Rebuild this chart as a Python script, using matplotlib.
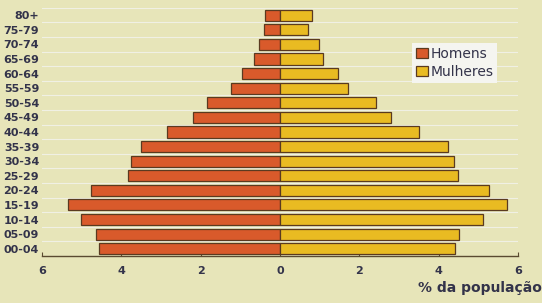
import matplotlib
matplotlib.use("Agg")
import matplotlib.pyplot as plt
import numpy as np

ages = ["00-04", "05-09", "10-14", "15-19", "20-24", "25-29", "30-34", "35-39",
        "40-44", "45-49", "50-54", "55-59", "60-64", "65-69", "70-74", "75-79", "80+"]
homens = [4.57, 4.63, 5.01, 5.34, 4.77, 3.82, 3.76, 3.51,
          2.84, 2.20, 1.83, 1.24, 0.95, 0.66, 0.53, 0.40, 0.38]
mulheres = [4.41, 4.52, 5.13, 5.72, 5.26, 4.50, 4.40, 4.25,
            3.50, 2.79, 2.41, 1.71, 1.46, 1.08, 0.98, 0.71, 0.80]
xticks = [-6, -4, -2, 0, 2, 4, 6]

BG = "#e7e5b9"
fig = plt.figure(figsize=(5.42, 3.03), dpi=100, facecolor=BG)
ax = fig.add_axes([0.0775, 0.155, 0.878, 0.819], facecolor=BG)

y = np.arange(len(ages))
ax.barh(y, -np.array(homens), height=0.76, color="#d95a2b", edgecolor="#5a3a20",
        linewidth=0.9, label="Homens", zorder=3)
ax.barh(y, mulheres, height=0.76, color="#e9bb22", edgecolor="#5a3a20",
        linewidth=0.9, label="Mulheres", zorder=3)

for g in np.arange(-0.5, len(ages), 1.0):
    ax.axhline(g, color="#f0f0e4", linewidth=0.8, zorder=1)

ax.set_xlim(-6, 6)
ax.set_ylim(-0.5, len(ages) - 0.5)
ax.set_yticks(y)
ax.set_yticklabels(ages, fontsize=8, fontweight="bold", color="#33334a")
ax.tick_params(axis="y", length=0, pad=2)
ax.set_xticks(xticks)
ax.set_xticklabels([str(abs(v)) for v in xticks], fontsize=8, fontweight="bold",
                   color="#33334a")
ax.tick_params(axis="x", direction="in", length=3, color="#5a4a30", pad=7)

for s in ["top", "right", "left"]:
    ax.spines[s].set_visible(False)
ax.spines["bottom"].set_color("#5a4a30")
ax.spines["bottom"].set_linewidth(1.0)

fig.text(1.0, 0.035, "% da população", ha="right", va="baseline", fontsize=10,
         fontweight="bold", color="#33334a")

leg = ax.legend(loc="upper left", bbox_to_anchor=(0.778, 0.86), fontsize=10,
                frameon=True, handlelength=0.8, handleheight=0.8, handletextpad=0.2,
                borderpad=0.3, labelspacing=0.3, fancybox=False, borderaxespad=0)
leg.get_frame().set_facecolor("#f5f5f0")
leg.get_frame().set_edgecolor("none")
leg.get_frame().set_alpha(1)
for t in leg.get_texts():
    t.set_color("#33334a")

fig.savefig("out.png", dpi=100, facecolor=BG)
